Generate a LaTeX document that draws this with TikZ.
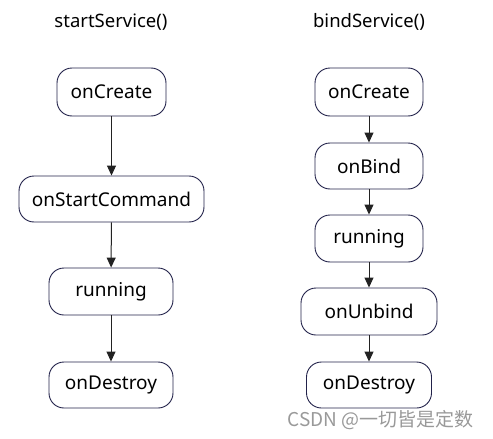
\documentclass[tikz,border=0pt]{standalone}
\usepackage{fontspec}
\setmainfont{Noto Sans}
\newfontfamily\cjkfont{Noto Sans CJK SC}
\usetikzlibrary{arrows.meta}
\definecolor{boxline}{HTML}{22224A}
\definecolor{arrowcol}{HTML}{222222}
\tikzset{
  state/.style={draw=boxline, line width=0.9pt, fill=white, rounded corners=15pt,
    inner sep=0pt, font=\fontsize{19}{22}\selectfont, text=black},
  title/.style={font=\fontsize{18.5}{22}\selectfont, text=black},
  flow/.style={draw=arrowcol, line width=1pt, -{Triangle[width=9pt,length=10pt]}},
  wm/.style={font=\cjkfont\fontsize{19}{22}\selectfont, text=black!40}
}
\begin{document}
\begin{tikzpicture}[x=1pt,y=-1pt]
\useasboundingbox (0,0) rectangle (493,439);
% left column
\node[title] (t1) at (111,22) {startService()};
\node[state, minimum width=109pt, minimum height=48pt] (a1) at (111.5,92) {onCreate};
\node[state, minimum width=185pt, minimum height=46pt] (a2) at (111.5,199) {onStartCommand};
\node[state, minimum width=124pt, minimum height=47pt] (a3) at (111,291.5) {running};
\node[state, minimum width=124pt, minimum height=46pt] (a4) at (111,385) {onDestroy};
\draw[flow] (a1) -- (a2);
\draw[flow] (a2) -- (a3);
\draw[flow] (a3) -- (a4);
% right column
\node[title] (t2) at (369,22) {bindService()};
\node[state, minimum width=108pt, minimum height=48pt] (b1) at (369,92) {onCreate};
\node[state, minimum width=108pt, minimum height=46pt] (b2) at (369,166) {onBind};
\node[state, minimum width=108pt, minimum height=47pt] (b3) at (369,238.5) {running};
\node[state, minimum width=136pt, minimum height=47pt] (b4) at (369,311.5) {onUnbind};
\node[state, minimum width=125pt, minimum height=46pt] (b5) at (369,385) {onDestroy};
\draw[flow] (b1) -- (b2);
\draw[flow] (b2) -- (b3);
\draw[flow] (b3) -- (b4);
\draw[flow] (b4) -- (b5);
% watermark
\node[wm, anchor=west] (wm) at (284,420) {CSDN @一切皆是定数};
\end{tikzpicture}
\end{document}
